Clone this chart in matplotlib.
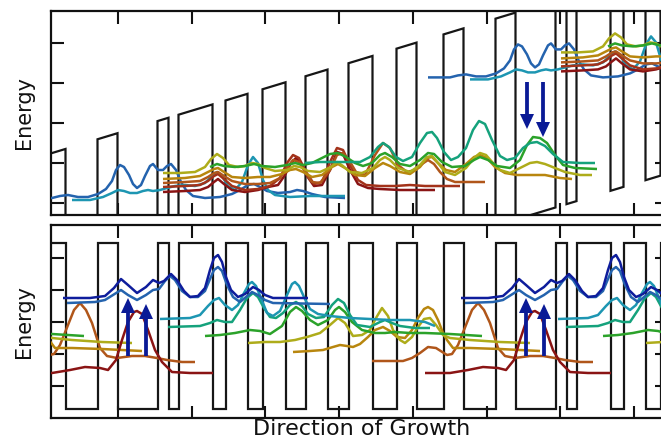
import numpy as np
import matplotlib
matplotlib.use("Agg")
import matplotlib.pyplot as plt

# ---------------- structure (one period, barrier first) ----------------
LAYERS = [20, 32, 20, 40, 11, 10, 34, 13, 22, 15, 23, 20, 22, 21, 24, 24, 20, 27]
STACK_START = 45.5
BAND_OFFSET_TOP = 207.0
FIELD_SLOPE = 0.303
WELL_EDGE_TOP = -160.8
BAND_OFFSET_BOT = 166.0
WELL_EDGE_BOT = 9.0

# ---------------- top panel (biased) wavefunctions ----------------
TB_X = [30,45,52,60,68,78,88,98,106,112,116,120,124,129,133,137,141,145,150,153,158,163,167,171,176,181,186,193,205,220,232,240,248,254,260,267,278,290,297,303,312,325,345]
TB_E = [17,17,17,19,20,18,18,21,26,34,45,50,48,40,31,27,30,39,49,51,45,45,49,51,45,33,25,19,17,18,21,25,30,31,28,24,22,23,25,24,21,18,17]
TC_X = [72,90,103,112,118,124,130,137,143,148,153,160,167,175,185,195,205,212,217,222,228,235,242,248,253,258,263,268,275,290,310,345]
TC_E = [15,15,18,22,25,24,22,22,24,25,24,25,27,29,30,29,32,39,43,39,29,25,33,50,58,52,35,25,20,18,19,19]
TO_X = [163,180,195,205,211,217,223,229,238,245,252,258,265,275,287,294,300,308,320,331,337,343,350,362,373,380,385,390,398,410,420,427,432,438,445,455,466,474,480,486,493,500,510,520,530,537,545,555,565,580,592]
TO_E = [42,42,43,48,56,61,57,50,48,49,52,51,47,44,45,49,48,44,43,48,53,49,43,42,47,55,58,55,47,43,50,58,59,52,43,40,47,57,62,60,52,45,42,47,52,53,51,47,43,40,40]
TG_X = [210,217,224,235,245,254,262,275,287,295,303,312,322,330,338,346,355,363,372,380,385,392,400,410,420,428,434,442,452,465,474,480,488,497,510,520,527,533,540,547,555,563,575,597]
TG_E = [48,51,49,48,49,51,49,48,50,52,50,52,57,61,62,58,52,49,52,60,62,58,51,49,55,62,61,53,48,49,55,58,55,49,47,55,70,78,77,72,60,50,47,46]
TT_X = [305,320,333,345,360,370,378,383,389,396,403,412,420,427,432,437,444,451,458,466,473,479,485,492,500,507,515,523,530,537,545,553,563,580,595]
TT_E = [52,53,53,53,53,58,68,72,68,58,54,58,72,82,83,77,63,55,58,67,85,94,91,75,59,55,57,67,72,73,69,61,53,52,52]
TOR_X = [163,185,200,208,214,218,224,232,245,258,270,282,290,296,303,312,322,332,338,345,355,365,375,383,390,400,410,420,427,432,438,446,455,466,474,480,487,495,505,517,530,545,560,572]
TOR_E = [36,37,39,43,46,47,43,38,37,38,38,41,45,46,43,38,40,48,51,47,40,39,47,52,49,43,41,48,57,58,52,45,43,51,58,60,57,48,42,40,40,40,37,36]
TBR_X = [163,185,200,208,214,218,224,232,245,258,270,280,287,293,299,305,312,320,330,337,343,349,356,365,375,383,390,398,407,415,422,428,434,440,447,455,470,485]
TBR_E = [32,33,34,38,42,43,39,34,31,31,32,37,47,55,53,43,33,32,45,60,62,55,43,40,60,72,67,50,43,45,51,55,51,43,36,33,33,33]
TRB_X = [163,185,200,208,214,218,224,232,245,258,270,280,287,293,299,306,314,322,330,337,343,350,358,366,380,395,410,425,440,460]
TRB_E = [28,29,30,34,39,41,36,29,25,26,29,37,52,60,57,43,31,33,53,67,65,50,35,30,29,29,30,29,29,29]
TDR_X = [163,185,200,208,214,218,224,232,245,258,268,278,285,291,296,301,307,314,322,330,337,343,350,358,368,380,400,420,435]
TDR_E = [23,24,25,28,33,36,31,25,23,25,28,30,40,52,57,52,39,29,30,45,63,61,45,31,27,26,25,25,25]

# ---------------- bottom panel (flat band) wavefunctions ----------------
BDB_X = [63,90,105,114,121,128,137,146,153,159,164,171,177,184,190,198,205,210,214,218,222,226,231,238,245,253,259,265,273,308]
BDB_E = [120,120,122,130,139,133,125,131,138,135,137,144,138,127,121,122,130,148,160,163,156,141,128,121,124,131,128,123,120,120]
BB_X = [67,95,105,113,121,128,137,146,153,159,165,170,175,182,190,198,205,210,214,218,222,227,233,240,246,252,258,265,273,330]
BB_E = [115,116,118,123,128,123,118,123,128,129,137,142,138,127,121,121,127,139,148,151,147,133,121,116,121,126,123,118,115,114]
BT_X = [160,190,200,208,214,219,225,232,238,244,249,252,256,261,267,273,280,287,292,295,299,304,310,318,330,350,370,390,410,425,435]
BT_E = [99,100,103,112,118,120,113,108,113,125,134,136,132,120,105,102,107,123,134,136,132,121,109,104,102,100,99,98,98,96,92]
BTG_X = [168,200,210,217,225,232,240,247,253,258,264,270,276,283,290,296,302,308,316,324,332,338,344,350,357,370,380,385,392,400,415,430]
BTG_E = [91,92,95,98,96,96,108,120,125,121,110,101,100,105,113,116,112,104,100,101,113,119,115,103,93,91,96,98,95,92,90,90]
BG_X = [205,220,235,250,260,270,282,290,296,302,310,318,328,335,339,345,352,362,375,385,395,410,425,450,482]
BG_E = [82,83,85,88,87,84,92,106,111,107,98,93,98,108,111,106,96,88,85,85,86,85,85,84,82]
BO_X = [248,265,280,295,307,320,330,338,345,353,362,370,376,382,388,393,400,405,412,418,424,430,436,443,450,470,500,530]
BO_E = [75,76,76,78,81,85,93,100,95,82,83,88,100,110,102,88,78,75,81,91,99,100,93,83,80,78,76,75]
BOC_X = [293,310,323,333,340,347,353,360,368,375,383,390,397,405,412,418,424,428,433,438,443,447,453,470,500,520,540]
BOC_E = [66,67,68,71,73,72,71,74,81,88,91,87,81,80,88,100,109,111,108,98,85,78,70,70,69,68,67]
BBR_X = [372,390,403,412,420,428,436,447,452,458,466,472,478,484,490,498,505,515,530,543,555,565,580,593]
BBR_E = [57,57,57,60,65,71,70,63,64,73,93,108,115,108,95,70,62,60,62,62,60,58,56,56]
BDR_X = [27,52,70,85,100,108,116,122,128,134,137,142,148,155,162,172,190,213]
BDR_E = [45,45,48,51,50,48,58,78,96,106,107,104,88,68,56,46,45,45]

# ---------------- transitions (arrows) ----------------
TOP_ARROW_X = [527, 543]
TOP_ARROW_FROM = [133, 133]
TOP_ARROW_TO = [86, 78]
BOT_ARROW_X = [128, 146]
BOT_ARROW_FROM = [62, 62]
BOT_ARROW_TO = [120, 114]

COL = {
    "dblue": "#0e1d9c", "blue": "#2463ae", "cyan": "#1d96b2", "tgreen": "#15a27c",
    "green": "#2ba22a", "olive": "#aeac1a", "ochre": "#b8860e", "brown": "#b0561a",
    "redbrown": "#a3321a", "dred": "#8a1414",
}
ARROW_COL = "#0a1a96"

TOP_CURVES = [
    (TB_X, TB_E, "blue"), (TC_X, TC_E, "cyan"),
    (TDR_X, TDR_E, "dred"), (TRB_X, TRB_E, "redbrown"), (TBR_X, TBR_E, "brown"),
    (TOR_X, TOR_E, "ochre"), (TO_X, TO_E, "olive"), (TG_X, TG_E, "green"),
    (TT_X, TT_E, "tgreen"),
]
BOT_CURVES = [
    (BDR_X, BDR_E, "dred"), (BBR_X, BBR_E, "brown"), (BOC_X, BOC_E, "ochre"),
    (BO_X, BO_E, "olive"), (BG_X, BG_E, "green"), (BTG_X, BTG_E, "tgreen"),
    (BT_X, BT_E, "cyan"), (BB_X, BB_E, "blue"), (BDB_X, BDB_E, "dblue"),
]

PERIOD = float(sum(LAYERS))


def profile(start, n_periods):
    th = np.tile(LAYERS, n_periods)
    edges = start + np.concatenate([[0.0], np.cumsum(th)])
    barrier = np.tile([1, 0] * (len(LAYERS) // 2), n_periods)
    xs = np.repeat(edges, 2)[1:-1]
    b = np.repeat(barrier, 2)
    return xs, b


fig = plt.figure(figsize=(6.61, 4.45), dpi=100)
W = 661.0
H = 445.0
ax_top = fig.add_axes([51 / W, (H - 215) / H, (667 - 51) / W, 204 / H])
ax_bot = fig.add_axes([51 / W, (H - 418) / H, (667 - 51) / W, 193 / H])

xs, b = profile(STACK_START - PERIOD, 3)
ax_top.plot(xs, WELL_EDGE_TOP + FIELD_SLOPE * xs + BAND_OFFSET_TOP * b,
            color="#161616", lw=1.6, zorder=2, solid_joinstyle="miter")
ax_bot.plot(xs, WELL_EDGE_BOT + BAND_OFFSET_BOT * b,
            color="#161616", lw=1.6, zorder=2, solid_joinstyle="miter")

for k in (-1, 0, 1):
    for x, e, c in TOP_CURVES:
        ax_top.plot(np.asarray(x) + k * PERIOD, np.asarray(e) + k * PERIOD * FIELD_SLOPE,
                    color=COL[c], lw=1.8, zorder=3, solid_capstyle="butt",
                    solid_joinstyle="round")
    for x, e, c in BOT_CURVES:
        ax_bot.plot(np.asarray(x) + k * PERIOD, e, color=COL[c], lw=1.8, zorder=3,
                    solid_capstyle="butt", solid_joinstyle="round")

for x, y0, y1 in zip(TOP_ARROW_X, TOP_ARROW_FROM, TOP_ARROW_TO):
    ax_top.arrow(x, y0, 0, y1 - y0, width=3.8, head_width=14, head_length=15,
                 length_includes_head=True, color=ARROW_COL, lw=0, zorder=6)
for k in (0, 1):
    for x, y0, y1 in zip(BOT_ARROW_X, BOT_ARROW_FROM, BOT_ARROW_TO):
        ax_bot.arrow(x + k * PERIOD, y0, 0, y1 - y0, width=3.8, head_width=14,
                     head_length=15, length_includes_head=True, color=ARROW_COL,
                     lw=0, zorder=6)

XTICKS = [118, 191.7, 265.4, 339.1, 412.8, 486.5, 560.2, 633.9]
ax_top.set_xlim(51, 667)
ax_top.set_ylim(0, 204)
ax_bot.set_xlim(51, 667)
ax_bot.set_ylim(0, 193)
ax_top.set_yticks([12, 52, 92, 132, 172])
ax_bot.set_yticks([32, 64, 96, 128, 160])
for ax in (ax_top, ax_bot):
    ax.set_xticks(XTICKS)
    ax.tick_params(direction="in", length=9, width=1.5, top=True, right=True,
                   labelbottom=False, labelleft=False, color="#111111")
    for s in ax.spines.values():
        s.set_linewidth(1.6)
        s.set_color("#111111")
    ax.set_ylabel("Energy", fontsize=15, color="#111111")
    ax.yaxis.set_label_coords(-0.027, 0.5)

ax_bot.set_xlabel("Direction of Growth", fontsize=16, color="#111111")
ax_bot.xaxis.set_label_coords((362 - 51) / 616.0, -0.004)

fig.savefig("out.png", dpi=100)
